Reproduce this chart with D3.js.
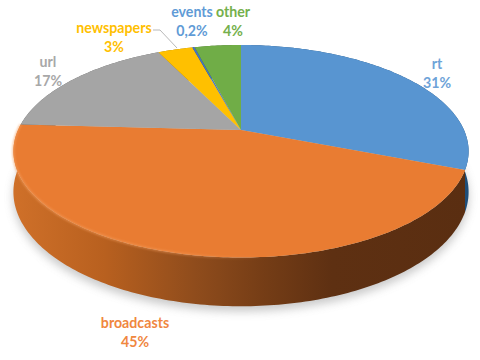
<!DOCTYPE html>
<html>
<head>
<meta charset="utf-8">
<style>
  html, body { margin: 0; background: #fff; }
  svg { display: block; }
  text { font-family: Lato, "Open Sans", sans-serif; font-weight: 700; font-size: 14.2px; text-anchor: middle; }
</style>
</head>
<body>
<script src="https://cdn.jsdelivr.net/npm/d3@7"></script>
<script>
const categories = ['rt', 'broadcasts', 'url', 'newspapers', 'events', 'other'];
const values = [31, 45, 17, 3, 0.2, 4];
const valueLabels = ['31%', '45%', '17%', '3%', '0,2%', '4%'];
const colors = ['#5895d1', '#e97c30', '#a5a5a5', '#ffc000', '#4472c4', '#70ad47'];
const wallColors = ['#1f4e79', 'url(#wallOrange)', '#636363', '#997300', '#264478', '#43682b'];
const textColors = ['#6ea3d8', '#f0873f', '#a8a8a8', '#ffc000', '#5f9bd6', '#75b04c'];

const width = 480, height = 360;

// where the slices meet, not the middle of the ellipse: the pie is in perspective
const cx = 241, cy = 130;
const rx = 223, ry = 102, tilt = 0.2, depth = 39;

const svg = d3.select('body').append('svg')
    .attr('width', width)
    .attr('height', height);

const defs = svg.append('defs');

const wallOrange = defs.append('linearGradient')
    .attr('id', 'wallOrange')
    .attr('gradientUnits', 'userSpaceOnUse')
    .attr('x1', 14).attr('x2', 468).attr('y1', 0).attr('y2', 0);
[[0, '#cf7029'], [0.2, '#b8601f'], [0.4, '#8f4c1c'], [0.55, '#753d16'], [0.7, '#5e3012'], [1, '#5a2e11']]
    .forEach((s) => wallOrange.append('stop').attr('offset', s[0]).attr('stop-color', s[1]));

const rim = defs.append('linearGradient')
    .attr('id', 'rimLight')
    .attr('gradientUnits', 'userSpaceOnUse')
    .attr('x1', 14).attr('x2', 270).attr('y1', 0).attr('y2', 0);
[[0, 0.7], [0.6, 0.6], [1, 0]]
    .forEach((s) => rim.append('stop').attr('offset', s[0]).attr('stop-color', '#f49c5c').attr('stop-opacity', s[1]));

defs.append('filter').attr('id', 'soft').attr('x', '-10%').attr('y', '-10%').attr('width', '120%').attr('height', '130%')
    .append('feGaussianBlur').attr('stdDeviation', 5);
defs.append('filter').attr('id', 'soft1')
    .attr('filterUnits', 'userSpaceOnUse').attr('x', 0).attr('y', 0).attr('width', width).attr('height', height)
    .append('feGaussianBlur').attr('stdDeviation', 1);
defs.append('filter').attr('id', 'edgeBlur')
    .attr('filterUnits', 'userSpaceOnUse').attr('x', 0).attr('y', 0).attr('width', width).attr('height', height)
    .append('feGaussianBlur').attr('stdDeviation', 0.5);

// pie angle -> screen position on the top face (or the bottom one with drop = 1)
function project(angle, drop = 0) {
    const u = Math.sin(angle), v = -Math.cos(angle);
    const s = 1 / (1 - tilt * v);
    return [cx + rx * u * s, cy + ry * v * s + drop * depth * s];
}

function edge(a0, a1, drop) {
    const n = Math.max(2, Math.ceil((a1 - a0) * 60));
    return d3.range(n + 1).map((i) => project(a0 + (a1 - a0) * i / n, drop));
}

const line = d3.line();
const pie = d3.pie().sort(null).value((d) => d.value);
const slices = pie(categories.map((name, i) => ({ name, value: values[i], i })));

// shadow under the disc
svg.append('path')
    .attr('d', line(edge(0, 2 * Math.PI, 1)) + 'Z')
    .attr('transform', 'translate(0,5)')
    .attr('fill', '#777')
    .attr('opacity', 0.4)
    .attr('filter', 'url(#soft)');

// side walls
svg.append('g').selectAll('path')
    .data(slices)
    .join('path')
    .attr('d', (d) => line(edge(d.startAngle, d.endAngle, 0).concat(edge(d.startAngle, d.endAngle, 1).reverse())) + 'Z')
    .attr('fill', (d) => wallColors[d.data.i]);

// top face
svg.append('g')
    .attr('filter', 'url(#edgeBlur)')
    .selectAll('path')
    .data(slices)
    .join('path')
    .attr('d', (d) => line([[cx, cy]].concat(edge(d.startAngle, d.endAngle, 0))) + 'Z')
    .attr('fill', (d) => colors[d.data.i]);

// lit bevel along the front left of the rim
const broadcasts = slices[1];
svg.append('path')
    .attr('d', line(edge(broadcasts.startAngle + 1.1, broadcasts.endAngle, 0)))
    .attr('fill', 'none')
    .attr('stroke', 'url(#rimLight)')
    .attr('stroke-width', 2)
    .attr('filter', 'url(#soft1)');

// leader for newspapers
svg.append('polyline')
    .attr('points', '153,30 160,30 177,48')
    .attr('fill', 'none')
    .attr('stroke', '#a6a6a6')
    .attr('stroke-width', 0.8);

const labelX = [437, 135, 48, 114, 192, 233];
const labelY = [64, 323, 62, 28, 12, 12];

const labels = svg.append('g').selectAll('text')
    .data(slices)
    .join('text')
    .attr('fill', (d) => textColors[d.data.i]);

labels.append('tspan')
    .attr('x', (d) => labelX[d.data.i])
    .attr('y', (d) => labelY[d.data.i] + 5)
    .text((d) => d.data.name);
labels.append('tspan')
    .attr('x', (d) => labelX[d.data.i])
    .attr('y', (d) => labelY[d.data.i] + 24)
    .text((d) => valueLabels[d.data.i]);
</script>
</body>
</html>
